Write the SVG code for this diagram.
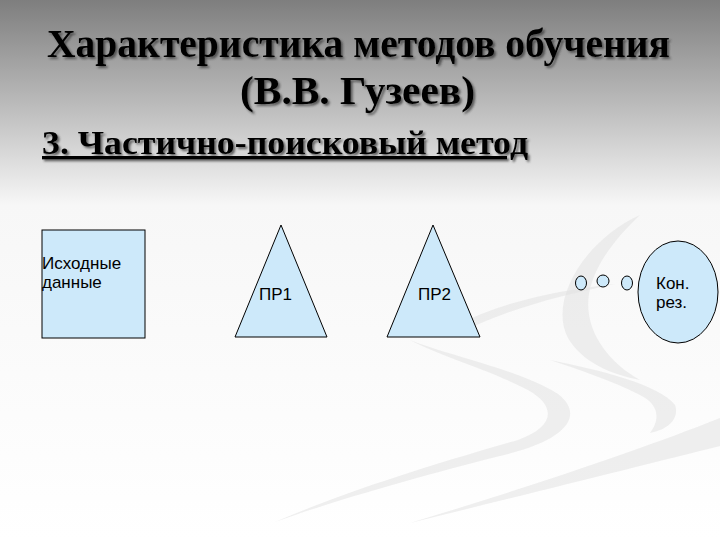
<svg xmlns="http://www.w3.org/2000/svg" width="720" height="540" viewBox="0 0 720 540">
<defs>
<linearGradient id="bg" x1="0" y1="0" x2="0" y2="1">
<stop offset="0" stop-color="#7e7e7e"/>
<stop offset="0.2" stop-color="#bdbdbd"/>
<stop offset="0.38" stop-color="#f7f7f7"/>
<stop offset="1" stop-color="#ffffff"/>
</linearGradient>
<filter id="sh" x="-5%" y="-20%" width="110%" height="150%">
<feDropShadow dx="2" dy="2" stdDeviation="0.8" flood-color="#333" flood-opacity="0.7"/>
</filter>
<style>
.t{font-family:"Liberation Serif","Times New Roman",serif;fill:#000}
.n{fill:#cde9fa;stroke:#000;stroke-width:1}
.l{font-family:"Liberation Sans",Arial,sans-serif;font-size:17px;fill:#000}
.sw{fill:#e2e2e2;opacity:0.55}
</style>
</defs>
<rect width="720" height="540" fill="url(#bg)"/>
<g id="swoosh">
<path class="sw" d="M640 215 C585 240 548 300 568 338 C582 362 610 374 640 380 C604 360 578 322 592 282 C600 258 618 236 640 215 Z"/>
<path class="sw" d="M455 326 C500 302 560 290 615 284 C560 296 510 308 462 332 Z"/>
<path class="sw" d="M410 340 C450 356 520 370 558 394 C584 414 570 440 500 456 C420 476 330 502 275 522 C340 494 420 468 518 440 C556 426 556 406 528 390 C490 370 440 356 410 340 Z"/>
<path class="sw" d="M550 360 C600 370 660 385 675 405 C680 420 666 430 650 433 C660 420 660 405 640 395 C610 380 580 370 550 360 Z"/>
<path class="sw" d="M720 418 C640 450 520 490 410 523 C520 496 640 466 720 446 Z"/>
</g>
<g id="title" filter="url(#sh)">
<text class="t" x="47" y="57" font-size="39" font-weight="bold" textLength="623" lengthAdjust="spacingAndGlyphs">Характеристика методов обучения</text>
<text class="t" x="240" y="104" font-size="39" font-weight="bold" textLength="235" lengthAdjust="spacingAndGlyphs">(В.В. Гузеев)</text>
<text class="t" x="42" y="154" font-size="33" font-weight="bold" text-decoration="underline" textLength="486" lengthAdjust="spacingAndGlyphs">3. Частично-поисковый метод</text>
</g>
<g id="connectors"></g>
<g id="n-source">
<rect class="n" x="42" y="230" width="103" height="108"/>
<text class="l" x="42" y="269">Исходные</text>
<text class="l" x="42" y="288">данные</text>
</g>
<g id="n-pr1">
<polygon class="n" points="281,225 235,337 327,337"/>
<text class="l" x="259" y="300">ПР1</text>
</g>
<g id="n-pr2">
<polygon class="n" points="433,225 387,337 480,337"/>
<text class="l" x="418" y="300">ПР2</text>
</g>
<g id="n-dots">
<ellipse class="n" cx="581" cy="283" rx="5.5" ry="7"/>
<ellipse class="n" cx="603" cy="281" rx="6" ry="6"/>
<ellipse class="n" cx="627" cy="283" rx="5.5" ry="7"/>
</g>
<g id="n-result">
<ellipse class="n" cx="678" cy="292" rx="40" ry="51"/>
<text class="l" x="656" y="289">Кон.</text>
<text class="l" x="656" y="308">рез.</text>
</g>
</svg>
